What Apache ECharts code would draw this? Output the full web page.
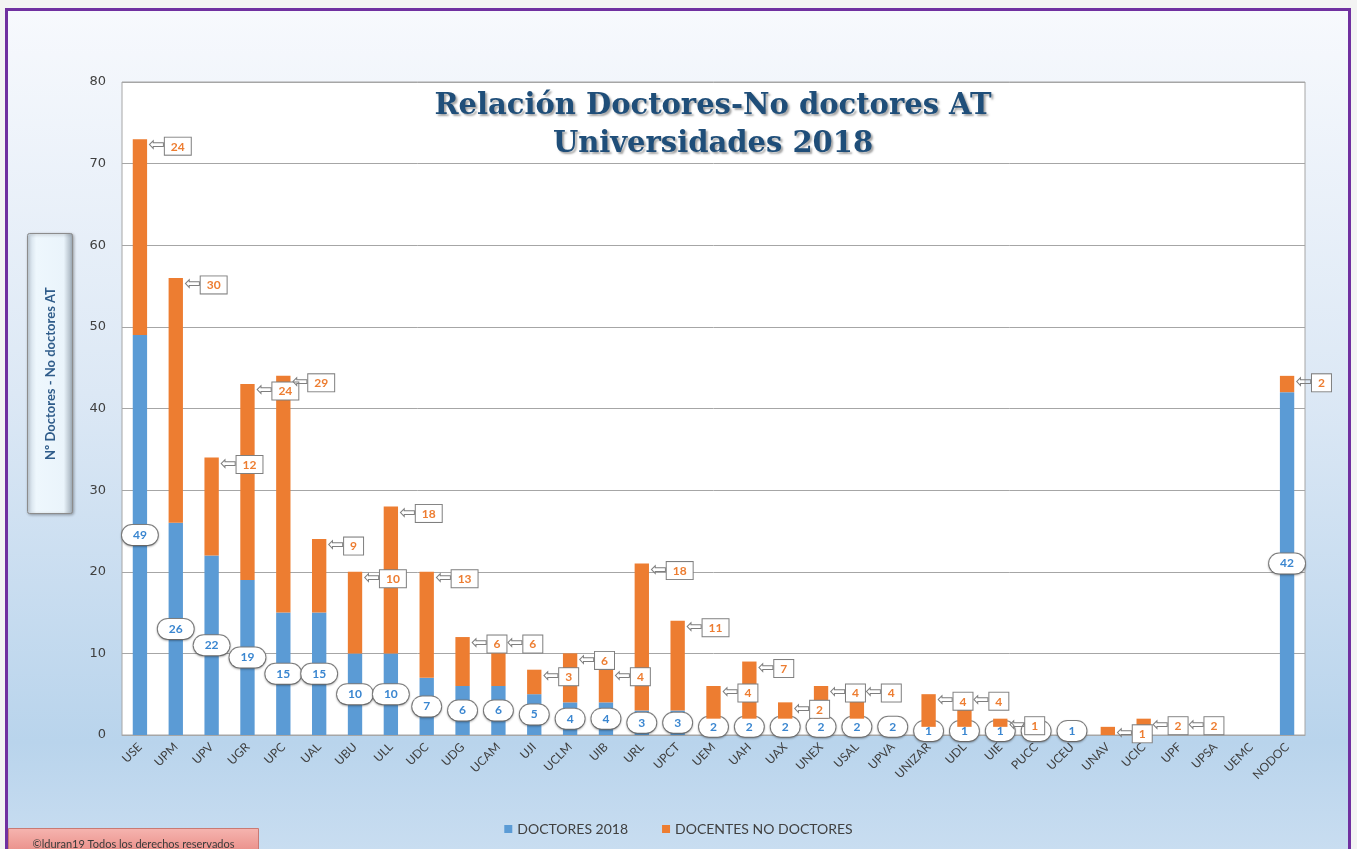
<html>
<head>
<meta charset="utf-8">
<script src="https://cdn.jsdelivr.net/npm/echarts@6/dist/echarts.min.js"></script>
<style>
  body { margin: 0; background: #f3f3f3; }
  #frame {
    position: absolute; left: 5px; top: 8px; width: 1340px; height: 850px;
    border: 3px solid #7030A0; border-bottom: none;
    background: linear-gradient(to bottom, #f7f9fd 0%, #dce8f5 45%, #b9d4ec 86%, #cadef1 100%);
  }
  #main { position: absolute; left: 0; top: 0; width: 1357px; height: 849px; }
</style>
</head>
<body>
<div id="frame"></div>
<div id="main"></div>
<script>
var universidades = ['USE', 'UPM', 'UPV', 'UGR', 'UPC', 'UAL', 'UBU', 'ULL', 'UDC', 'UDG', 'UCAM', 'UJI',
    'UCLM', 'UIB', 'URL', 'UPCT', 'UEM', 'UAH', 'UAX', 'UNEX', 'USAL', 'UPVA', 'UNIZAR', 'UDL', 'UIE',
    'PUCC', 'UCEU', 'UNAV', 'UCIC', 'UPF', 'UPSA', 'UEMC', 'NODOC'];
var doctores = [49, 26, 22, 19, 15, 15, 10, 10, 7, 6, 6, 5, 4, 4, 3, 3, 2, 2, 2, 2, 2, 2, 1, 1, 1,
    1, 1, 0, 0, 0, 0, 0, 42];
var noDoctores = [24, 30, 12, 24, 29, 9, 10, 18, 13, 6, 6, 3, 6, 4, 18, 11, 4, 7, 2, 4, 4, 0, 4, 4, 1,
    0, 0, 1, 2, 2, 0, 0, 2];
var yTicks = { min: 0, max: 80, interval: 10 };

// ocultar etiquetas de los valores cero
function conEtiqueta(arr) {
    return arr.map(function (v) {
        return v === 0 ? { value: 0, label: { show: false } } : v;
    });
}

var myChart = echarts.init(document.getElementById('main'));

var option = {
    backgroundColor: 'transparent',
    title: {
        text: 'Relación Doctores-No doctores AT\nUniversidades 2018',
        left: 708,
        top: 82,
        textAlign: 'center',
        textStyle: {
            fontFamily: 'DejaVu Serif',
            fontWeight: 'bold',
            fontSize: 29,
            lineHeight: 38,
            color: '#1F4E79',
            textShadowColor: 'rgba(0,0,0,0.35)',
            textShadowBlur: 2,
            textShadowOffsetX: 2,
            textShadowOffsetY: 2
        }
    },
    legend: {
        data: ['DOCTORES 2018', 'DOCENTES NO DOCTORES'],
        left: 'center',
        top: 817,
        icon: 'rect',
        itemWidth: 8,
        itemHeight: 8,
        itemGap: 34,
        textStyle: { fontFamily: 'Lato', fontSize: 14, color: '#404040' }
    },
    grid: {
        left: 122,
        right: 52,
        top: 82,
        bottom: 114,
        show: true,
        backgroundColor: '#ffffff',
        borderColor: '#a6a6a6',
        borderWidth: 1,
        containLabel: false
    },
    xAxis: {
        type: 'category',
        data: universidades,
        axisTick: { show: false },
        axisLine: { lineStyle: { color: '#a6a6a6' } },
        axisLabel: {
            rotate: 45,
            interval: 0,
            margin: 10,
            fontFamily: 'Lato',
            fontSize: 12,
            color: '#404040'
        }
    },
    yAxis: {
        type: 'value',
        min: yTicks.min,
        max: yTicks.max,
        interval: yTicks.interval,
        axisLine: { show: false },
        axisTick: { show: false },
        axisLabel: { fontFamily: 'DejaVu Sans', fontSize: 13, color: '#404040', margin: 16 },
        splitLine: { lineStyle: { color: '#a6a6a6', width: 1 } }
    },
    series: [
        {
            name: 'DOCTORES 2018',
            type: 'bar',
            stack: 'total',
            barWidth: '40%',
            data: conEtiqueta(doctores),
            itemStyle: { color: '#5B9BD5' },
            z: 2,
            label: {
                show: true,
                position: 'inside',
                color: '#3A86D0',
                fontFamily: 'Lato',
                fontWeight: 'bold',
                fontSize: 12,
                backgroundColor: '#ffffff',
                borderColor: '#7f7f7f',
                borderWidth: 1,
                borderRadius: 12,
                padding: [4, 11],
                shadowColor: 'rgba(0,0,0,0.25)',
                shadowBlur: 2,
                shadowOffsetY: 1
            }
        },
        {
            name: 'DOCENTES NO DOCTORES',
            type: 'bar',
            stack: 'total',
            barWidth: '40%',
            data: conEtiqueta(noDoctores),
            itemStyle: { color: '#ED7D31' },
            z: 3,
            label: {
                show: true,
                position: ['100%', 0],
                align: 'left',
                verticalAlign: 'middle',
                offset: [1, 7],
                formatter: function (p) {
                    return '{a|⇦}{b|' + p.value + '}';
                },
                rich: {
                    a: {
                        fontFamily: 'DejaVu Sans',
                        fontSize: 20,
                        color: '#7f7f7f'
                    },
                    b: {
                        fontFamily: 'Lato',
                        fontWeight: 'bold',
                        fontSize: 12,
                        color: '#ED7D31',
                        backgroundColor: '#ffffff',
                        borderColor: '#7f7f7f',
                        borderWidth: 1,
                        padding: [3, 6, 2, 6]
                    }
                }
            }
        }
    ],
    graphic: [
        {
            type: 'group',
            left: 27,
            top: 233,
            children: [
                {
                    type: 'rect',
                    shape: { x: 0, y: 0, width: 45, height: 280, r: 2 },
                    style: {
                        fill: new echarts.graphic.LinearGradient(0, 0, 1, 0, [
                            { offset: 0, color: '#c9d6e2' },
                            { offset: 0.2, color: '#eef7fd' },
                            { offset: 0.8, color: '#eaf4fb' },
                            { offset: 1, color: '#9aa7b3' }
                        ]),
                        stroke: '#8c8c8c',
                        lineWidth: 1,
                        shadowColor: 'rgba(0,0,0,0.3)',
                        shadowBlur: 3,
                        shadowOffsetX: 1,
                        shadowOffsetY: 1
                    }
                },
                {
                    type: 'text',
                    x: 23,
                    y: 140,
                    rotation: Math.PI / 2,
                    style: {
                        text: 'Nº Doctores - No doctores AT',
                        fontFamily: 'Lato',
                        fontSize: 13,
                        fontWeight: 'bold',
                        fill: '#2F5C8A',
                        align: 'center',
                        verticalAlign: 'middle'
                    }
                }
            ]
        },
        {
            type: 'group',
            left: 8,
            top: 828,
            children: [
                {
                    type: 'rect',
                    shape: { x: 0, y: 0, width: 250, height: 26 },
                    style: {
                        fill: new echarts.graphic.LinearGradient(0, 0, 0, 1, [
                            { offset: 0, color: '#f6b5b0' },
                            { offset: 1, color: '#e88a84' }
                        ]),
                        stroke: '#c97a74',
                        lineWidth: 1
                    }
                },
                {
                    type: 'text',
                    x: 125,
                    y: 16,
                    style: {
                        text: '©lduran19 Todos los derechos reservados',
                        fontFamily: 'Lato',
                        fontSize: 11,
                        fill: '#3a3a3a',
                        align: 'center',
                        verticalAlign: 'middle'
                    }
                }
            ]
        }
    ]
};

myChart.setOption(option);
</script>
</body>
</html>
